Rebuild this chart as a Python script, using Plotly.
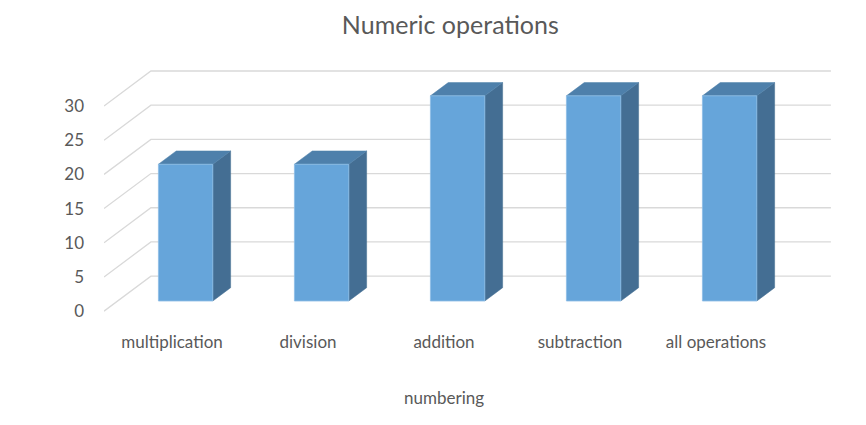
import plotly.graph_objects as go

categories = ["multiplication", "division", "addition", "subtraction", "all operations"]
values = [20, 20, 30, 30, 30]
y_ticks = [0, 5, 10, 15, 20, 25, 30]
title_text = "Numeric operations"
x_title = "numbering"

# pseudo-3D geometry (data units)
DX, DY = 0.345, 5.12        # floor depth vector
D1, D2 = 0.29, 0.67         # bar depth span (fraction of floor depth)
HW = 0.2                    # bar half width

FRONT = "#66A5DA"
TOP = "#4E80AB"
SIDE = "#446E93"
GRID = "#D9D9D9"
TXT = "#595959"
FONT = "Lato"

fig = go.Figure()

# gridlines: diagonal on the left floor edge + horizontal on back wall
gx, gy = [], []
n = len(categories)
for v in y_ticks:
    gx += [-0.5, -0.5 + DX, n - 0.5 + DX, None]
    gy += [v, v + DY, v + DY, None]
fig.add_trace(go.Scatter(x=gx, y=gy, mode="lines",
                         line=dict(color=GRID, width=1.3),
                         hoverinfo="skip", showlegend=False))

bx, by = (D2 - D1) * DX, (D2 - D1) * DY
for i, v in enumerate(values):
    cx = i + D1 * DX
    xl, xr = cx - HW, cx + HW
    y0 = D1 * DY
    yt = v + y0
    # side
    fig.add_trace(go.Scatter(
        x=[xr, xr + bx, xr + bx, xr, xr], y=[y0, y0 + by, yt + by, yt, y0],
        fill="toself", fillcolor=SIDE, mode="lines", line=dict(color=SIDE, width=0.5),
        hoverinfo="skip", showlegend=False))
    # top
    fig.add_trace(go.Scatter(
        x=[xl, xl + bx, xr + bx, xr, xl], y=[yt, yt + by, yt + by, yt, yt],
        fill="toself", fillcolor=TOP, mode="lines", line=dict(color=TOP, width=0.5),
        hoverinfo="skip", showlegend=False))
    # front
    fig.add_trace(go.Scatter(
        x=[xl, xr, xr, xl, xl], y=[y0, y0, yt, yt, y0],
        fill="toself", fillcolor=FRONT, mode="lines", line=dict(color="#8DBDE6", width=0.8),
        hoverinfo="skip", showlegend=False, name=categories[i]))

plot_h = 425 - 65 - 107
fig.update_layout(
    width=866, height=425,
    margin=dict(l=104, r=14, t=65, b=107),
    paper_bgcolor="white", plot_bgcolor="white",
    font=dict(family=FONT, color=TXT, size=17),
    title=dict(text=title_text, x=0.52, xanchor="center", y=0.94, yanchor="middle",
               yref="container", font=dict(size=25, color=TXT, family=FONT)),
    xaxis=dict(range=[-0.5, 5.0], tickvals=list(range(n)), ticktext=categories,
               showgrid=False, zeroline=False, showline=False, ticks="",
               ticklabelstandoff=12, tickfont=dict(size=17, color=TXT), fixedrange=True),
    yaxis=dict(range=[-1, 36], tickvals=y_ticks, showgrid=False, zeroline=False,
               showline=False, ticks="", ticklabelstandoff=19,
               tickfont=dict(size=17, color=TXT), fixedrange=True),
    annotations=[dict(text=x_title, x=(n - 1) / 2, xref="x",
                      y=(425 - 107 - 397) / plot_h, yref="paper", yanchor="middle",
                      showarrow=False, font=dict(size=17, color=TXT))],
)

fig.write_html("out.html")
